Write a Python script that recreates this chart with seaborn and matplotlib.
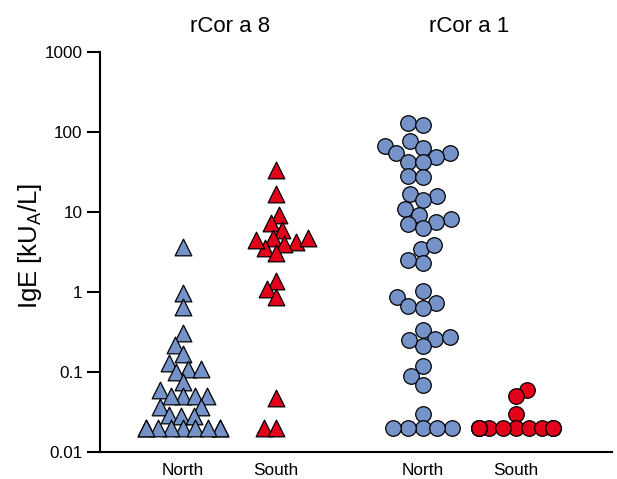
import numpy as np
import pandas as pd
import matplotlib
matplotlib.use("Agg")
import matplotlib.pyplot as plt
import matplotlib.transforms as mtransforms
import seaborn as sns

# ---------------- data ----------------
allergens = ["rCor a 8", "rCor a 1"]
regions = ["North", "South"]

r8_north = [3.6, 0.96, 0.65, 0.31, 0.22, 0.17, 0.13, 0.11, 0.10, 0.11, 0.075,
            0.06, 0.05, 0.05, 0.05, 0.05, 0.037, 0.037, 0.029, 0.028, 0.028,
            0.02, 0.02, 0.02, 0.02, 0.02, 0.02, 0.02, 0.02, 0.02]
r8_south = [33.5, 16.6, 9.3, 7.2, 6.0, 4.7, 4.24, 3.5, 4.8, 4.47, 4.0, 3.03,
            1.37, 1.09, 0.87, 0.048, 0.02, 0.02]
r1_north = [128, 122, 78, 64, 66, 55, 54, 49, 42.5, 41.7, 28.2, 27, 16.8, 16,
            14, 10.8, 9.3, 8.1, 7.0, 7.4, 6.3, 3.4, 3.9, 2.28, 2.5, 0.86, 0.67,
            1.04, 0.73, 0.625, 0.335, 0.26, 0.21, 0.275, 0.25, 0.119, 0.089,
            0.069, 0.030, 0.02, 0.02, 0.02, 0.02, 0.02]
r1_south = [0.06, 0.05, 0.03, 0.02, 0.02, 0.02, 0.02, 0.02, 0.02, 0.02, 0.02,
            0.02, 0.02, 0.02, 0.02]

y_ticks = [0.01, 0.1, 1, 10, 100, 1000]
y_tick_labels = ["0.01", "0.1", "1", "10", "100", "1000"]
y_label = "IgE [kU$_\\mathrm{A}$/L]"

# ---------------- layout / style ----------------
group_pos = {("rCor a 8", "North"): 0.0, ("rCor a 8", "South"): 1.0,
             ("rCor a 1", "North"): 2.57, ("rCor a 1", "South"): 3.57}
colors = {"North": "#7592c9", "South": "#e2001a"}
markers = {"rCor a 8": "^", "rCor a 1": "o"}
sizes = {"rCor a 8": 12.0, "rCor a 1": 11.2}
# spacing used for the swarm layout (markers then drawn larger, overlapping like the reference)
layout_size = {("rCor a 8", "North"): 7.6, ("rCor a 8", "South"): 7.8,
               ("rCor a 1", "North"): 9.2, ("rCor a 1", "South"): 8.2}

sns.set_style("ticks")
plt.rcParams["font.family"] = ["Liberation Sans", "DejaVu Sans"]
plt.rcParams["mathtext.fontset"] = "custom"
plt.rcParams["mathtext.rm"] = "Liberation Sans"
plt.rcParams["mathtext.it"] = "Liberation Sans:italic"
for k in ["text.color", "axes.labelcolor", "xtick.color", "ytick.color", "axes.edgecolor"]:
    plt.rcParams[k] = "black"

series = {("rCor a 8", "North"): r8_north, ("rCor a 8", "South"): r8_south,
          ("rCor a 1", "North"): r1_north, ("rCor a 1", "South"): r1_south}
rows = []
for (al, rg), vals in series.items():
    for v in vals:
        rows.append({"allergen": al, "region": rg, "pos": group_pos[(al, rg)], "IgE": v})
df = pd.DataFrame(rows)

W, H = 617, 479
fig = plt.figure(figsize=(W / 100, H / 100), dpi=100)
ax = fig.add_axes([100 / W, 1 - 452 / H, (612 - 100) / W, 400 / H])
ax.set_yscale("log")
ax.set_ylim(0.01, 1000)
ax.set_xlim(-0.89, 4.6)

swarm_sets = []
for (al, rg) in series:
    sub = df[(df["allergen"] == al) & (df["region"] == rg)]
    n0 = len(ax.collections)
    sns.swarmplot(data=sub, x="pos", y="IgE", color=colors[rg],
                  native_scale=True, marker=markers[al],
                  size=layout_size[(al, rg)], edgecolor="black", linewidth=0.9,
                  legend=False, warn_thresh=1, ax=ax)
    swarm_sets.append((al, ax.collections[n0:]))

ax.set_yscale("log")
ax.set_ylim(0.01, 1000)
ax.set_xlim(-0.89, 4.6)
ax.set_yticks(y_ticks)
ax.set_yticklabels(y_tick_labels)
ax.yaxis.set_minor_locator(matplotlib.ticker.NullLocator())
ax.tick_params(axis="y", length=9.5, width=1.5, labelsize=12.3, pad=3)

xt = [group_pos[(al, rg)] for al in allergens for rg in regions]
ax.set_xticks(xt)
ax.set_xticklabels([rg for al in allergens for rg in regions])
ax.tick_params(axis="x", length=0, labelsize=12.4, pad=8)

ax.set_xlabel("")
ax.set_ylabel(y_label, fontsize=18.5)
ax.yaxis.label.set_va("center")
ax.yaxis.set_label_coords(-0.137, 0.515)

for s in ["top", "right"]:
    ax.spines[s].set_visible(False)
for s in ["left", "bottom"]:
    ax.spines[s].set_linewidth(1.5)

trans = mtransforms.blended_transform_factory(ax.transData, ax.transAxes)
for al in allergens:
    xc = (group_pos[(al, "North")] + group_pos[(al, "South")]) / 2
    ax.text(xc, 1.0625, al, transform=trans, ha="center", va="center", fontsize=16)

# lay the swarm out with the compact spacing, then show markers at full size
fig.canvas.draw()
for al, cols in swarm_sets:
    for c in cols:
        if "draw" in c.__dict__:
            del c.draw
        c.set_sizes([sizes[al] ** 2])

fig.savefig("out.png", dpi=100)
